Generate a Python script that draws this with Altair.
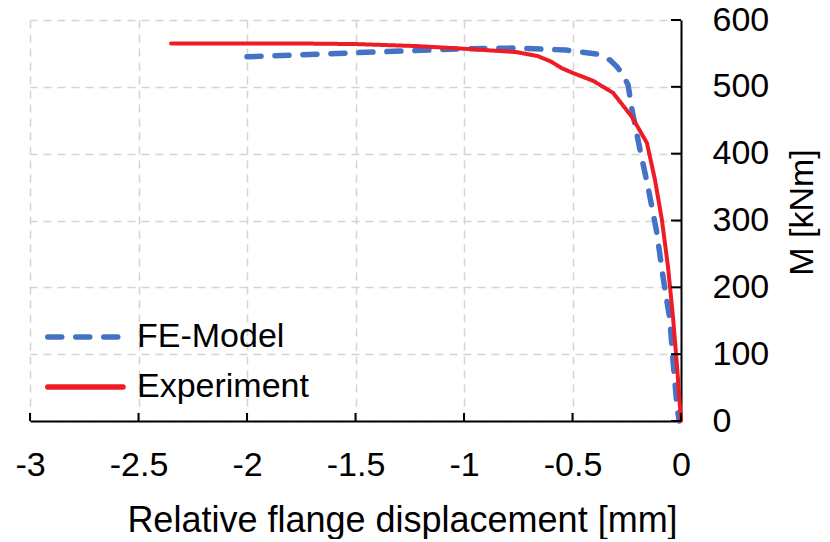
import altair as alt
import pandas as pd

# ---- data ----
exp_x = [-2.35, -1.8, -1.5, -1.22, -1.0, -0.76, -0.66, -0.60, -0.55, -0.50, -0.405, -0.313, -0.226, -0.157, -0.12, -0.088, -0.06, -0.037, -0.018, 0.0]
exp_m = [565, 565, 564, 561, 557, 552, 546, 538, 528, 521, 509, 491, 455, 416, 361, 301, 231, 156, 81, 0]

fe_x = [-2.0, -1.5, -1.0, -0.76, -0.53, -0.387, -0.327, -0.295, -0.267, -0.244, -0.226, -0.189, -0.152, -0.111, -0.083, -0.051, -0.037, -0.018, -0.008]
fe_m = [545, 551, 557, 558, 555, 549, 540, 530, 518, 503, 466, 406, 350, 281, 216, 151, 91, 20, 0]

series_names = ["FE-Model", "Experiment"]
series_colors = ["#4472C4", "#EE1C25"]
series_dash = [[14, 14], [1, 0]]

x_ticks = [-3, -2.5, -2, -1.5, -1, -0.5, 0]
y_ticks = [0, 100, 200, 300, 400, 500, 600]

W, H = 651, 401
FONT = "Liberation Sans"
FS = 34

fe_df = pd.DataFrame({"x": fe_x, "m": fe_m, "series": "FE-Model", "i": range(len(fe_x))})
exp_df = pd.DataFrame({"x": exp_x, "m": exp_m, "series": "Experiment", "i": range(len(exp_x))})
leg_df = pd.DataFrame({"series": series_names})

x_scale = alt.Scale(domain=[-3, 0], nice=False, zero=False)
y_scale = alt.Scale(domain=[0, 600], nice=False)

color = alt.Color(
    "series:N",
    scale=alt.Scale(domain=series_names, range=series_colors),
    legend=None,
)
dash = alt.StrokeDash(
    "series:N",
    scale=alt.Scale(domain=series_names, range=series_dash),
    legend=None,
)

x_enc = alt.X(
    "x:Q",
    scale=x_scale,
    axis=alt.Axis(
        values=x_ticks,
        ticks=False,
        domainColor="black",
        domainWidth=2,
        grid=True,
        gridColor="#d4d4d4",
        gridDash=[8, 6],
        gridWidth=1.5,
        labelFont=FONT,
        labelFontSize=FS,
        labelColor="black",
        labelPadding=27,
        labelFlush=False,
        labelExpr="'' + datum.value",
        title="Relative flange displacement [mm]",
        titleFont=FONT,
        titleFontSize=36,
        titleFontWeight="normal",
        titleColor="black",
        titleX=372,
        titleY=99,
        titleBaseline="middle",
        titleAlign="center",
    ),
)
y_enc = alt.Y(
    "m:Q",
    scale=y_scale,
    axis=alt.Axis(
        orient="right",
        values=y_ticks,
        ticks=False,
        domainColor="black",
        domainWidth=2,
        grid=True,
        gridColor="#d4d4d4",
        gridDash=[8, 6],
        gridWidth=1.5,
        labelFont=FONT,
        labelFontSize=FS,
        labelColor="black",
        labelPadding=31,
        labelAlign="left",
        labelBaseline="middle",
        labelFlush=False,
        title="M [kNm]",
        titleFont=FONT,
        titleFontSize=FS,
        titleFontWeight="normal",
        titleColor="black",
        titleAngle=270,
        titleX=121,
        titleY=192,
        titleBaseline="middle",
        titleAlign="center",
    ),
)

fe_line = alt.Chart(fe_df).mark_line(strokeWidth=5.5, strokeCap="round").encode(
    x=x_enc, y=y_enc, color=color, strokeDash=dash, order="i:Q"
)
exp_line = alt.Chart(exp_df).mark_line(strokeWidth=4, strokeCap="round").encode(
    x=alt.X("x:Q", scale=x_scale), y=alt.Y("m:Q", scale=y_scale),
    color=color, strokeDash=dash, order="i:Q"
)

xt_df = pd.DataFrame({"x": x_ticks})
yt_df = pd.DataFrame({"m": y_ticks})
x_tick_marks = alt.Chart(xt_df).mark_rule(color="black", strokeWidth=2).encode(
    x=alt.X("x:Q", scale=x_scale), y=alt.value(H), y2=alt.value(H - 8)
)
y_tick_marks = alt.Chart(yt_df).mark_rule(color="black", strokeWidth=2).encode(
    y=alt.Y("m:Q", scale=y_scale), x=alt.value(W), x2=alt.value(W - 10)
)

# legend (drawn inside the plot, lower left)
leg_y = alt.Y(
    "series:N",
    scale=alt.Scale(type="point", domain=series_names, range=[317, 367], padding=0),
    axis=None,
)
leg_sym = alt.Chart(leg_df).mark_rule(strokeWidth=5.5, strokeCap="round").encode(
    x=alt.value(17.75), x2=alt.value(93), y=leg_y, color=color, strokeDash=dash
)
leg_txt = alt.Chart(leg_df).mark_text(
    align="left", baseline="middle", font=FONT, fontSize=FS, color="black"
).encode(x=alt.value(107), y=leg_y, text="series:N")

legend_layer = alt.layer(leg_sym, leg_txt)

chart = alt.layer(
    alt.layer(fe_line, exp_line, x_tick_marks, y_tick_marks), legend_layer
).resolve_scale(y="independent").properties(
    width=W,
    height=H,
    autosize=alt.AutoSizeParams(type="none"),
    padding={"left": 22, "top": 12, "right": 141, "bottom": 118},
    background="white",
).configure_view(stroke=None)

chart.save("out.html", embed_options={"renderer": "svg", "actions": False})
